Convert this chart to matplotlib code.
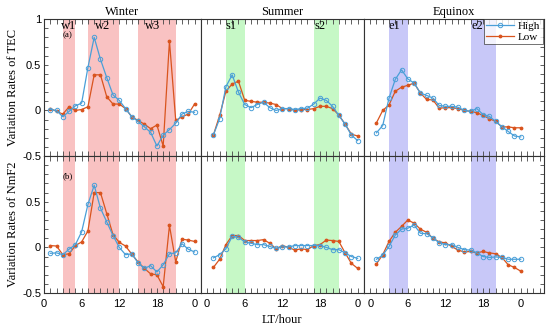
import matplotlib
matplotlib.use("Agg")
import matplotlib.pyplot as plt
from matplotlib.ticker import MultipleLocator, FixedLocator

# local time hours of each sample
hours = list(range(1, 25))

# TEC variation rates (top row)
tec_high_winter = [0.01, 0.0, -0.07, -0.01, 0.05, 0.08, 0.47, 0.80, 0.56, 0.36, 0.17, 0.11,
                   0.02, -0.07, -0.12, -0.18, -0.24, -0.39, -0.27, -0.21, -0.14, -0.04, -0.01, -0.02]
tec_low_winter = [0.02, -0.01, -0.04, 0.04, 0.0, 0.01, 0.04, 0.39, 0.39, 0.15, 0.07, 0.07,
                  0.02, -0.07, -0.11, -0.15, -0.20, -0.16, -0.39, 0.76, -0.11, -0.07, -0.04, 0.07]
tec_high_summer = [-0.27, -0.09, 0.26, 0.39, 0.20, 0.065, 0.03, 0.065, 0.09, 0.03, 0.0, 0.02,
                   0.02, 0.01, 0.02, 0.025, 0.07, 0.135, 0.11, 0.045, -0.055, -0.15, -0.27, -0.33]
tec_low_summer = [-0.27, -0.055, 0.21, 0.29, 0.32, 0.11, 0.10, 0.09, 0.09, 0.08, 0.065, 0.02,
                  0.02, 0.0, 0.01, 0.01, 0.02, 0.045, 0.045, 0.02, -0.05, -0.15, -0.26, -0.28]
tec_high_equinox = [-0.245, -0.165, 0.135, 0.34, 0.445, 0.345, 0.30, 0.19, 0.165, 0.135, 0.055, 0.045,
                    0.045, 0.035, 0.0, -0.01, 0.02, -0.045, -0.065, -0.12, -0.18, -0.23, -0.28, -0.29]
tec_low_equinox = [-0.135, 0.0, 0.06, 0.21, 0.255, 0.275, 0.30, 0.19, 0.12, 0.115, 0.025, 0.03,
                   0.03, 0.02, 0.0, -0.01, -0.025, -0.055, -0.09, -0.12, -0.18, -0.18, -0.19, -0.19]

# NmF2 variation rates (bottom row)
nmf2_high_winter = [-0.065, -0.06, -0.08, -0.02, 0.03, 0.17, 0.47, 0.68, 0.43, 0.28, 0.13, 0.0,
                    -0.08, -0.07, -0.17, -0.23, -0.20, -0.27, -0.19, -0.07, -0.06, 0.04, -0.02, -0.05]
nmf2_low_winter = [0.02, 0.015, -0.08, -0.07, 0.02, 0.06, 0.18, 0.60, 0.60, 0.37, 0.14, 0.055,
                   0.015, -0.075, -0.16, -0.23, -0.29, -0.30, -0.43, 0.24, -0.16, 0.09, 0.08, 0.065]
nmf2_high_summer = [-0.115, -0.08, -0.015, 0.12, 0.11, 0.06, 0.045, 0.03, 0.03, 0.01, -0.01, 0.005,
                    0.005, 0.02, 0.02, 0.02, 0.02, 0.02, 0.0, -0.025, -0.025, -0.06, -0.10, -0.12]
nmf2_low_summer = [-0.22, -0.13, 0.03, 0.13, 0.13, 0.075, 0.075, 0.075, 0.085, 0.045, -0.015, 0.02,
                   0.0, -0.03, -0.015, -0.025, 0.02, 0.03, 0.08, 0.075, 0.065, -0.06, -0.175, -0.23]
nmf2_high_equinox = [-0.13, -0.085, 0.01, 0.135, 0.20, 0.21, 0.245, 0.155, 0.15, 0.105, 0.05, 0.03,
                     0.03, 0.0, -0.025, -0.03, -0.06, -0.10, -0.11, -0.105, -0.11, -0.13, -0.13, -0.13]
nmf2_low_equinox = [-0.18, -0.08, 0.065, 0.165, 0.23, 0.30, 0.265, 0.20, 0.165, 0.10, 0.06, 0.05,
                    0.01, -0.03, -0.05, -0.045, -0.06, -0.045, -0.06, -0.07, -0.11, -0.19, -0.22, -0.26]

seasons = ["Winter", "Summer", "Equinox"]
tec_high = [tec_high_winter, tec_high_summer, tec_high_equinox]
tec_low = [tec_low_winter, tec_low_summer, tec_low_equinox]
nmf2_high = [nmf2_high_winter, nmf2_high_summer, nmf2_high_equinox]
nmf2_low = [nmf2_low_winter, nmf2_low_summer, nmf2_low_equinox]

# shaded periods: (start, end, label)
bands = [
    [(3, 5, "w1"), (7, 12, "w2"), (15, 21, "w3")],
    [(3, 6, "s1"), (17, 21, "s2")],
    [(3, 6, "e1"), (16, 20, "e2")],
]
band_colors = ["#F9C2C2", "#C6F8C6", "#C8C8F8"]
label_x = [[4.0, 9.3, 17.3], [3.8, 18.0], [3.8, 17.1]]
xlims = [(0, 25), (-1, 25), (-1, 27.7)]

xtick_pos = [0, 6, 12, 18, 24]
xtick_labels = ["0", "6", "12", "18", "0"]

blue = "#4A9FD8"
red = "#D9541E"
serif = "Liberation Serif"
sans = "Liberation Sans"

fig, axes = plt.subplots(2, 3, figsize=(5.5, 3.3), dpi=100,
                         gridspec_kw=dict(width_ratios=[25, 26, 28.7], wspace=0, hspace=0))
fig.subplots_adjust(left=0.08, right=0.989, top=0.942, bottom=0.112)

for row in range(2):
    for col in range(3):
        ax = axes[row, col]
        if row == 0:
            hi, lo = tec_high[col], tec_low[col]
        else:
            hi, lo = nmf2_high[col], nmf2_low[col]
        for (s, e, lab) in bands[col]:
            ax.axvspan(s, e, color=band_colors[col], lw=0, zorder=0)
        ax.plot(hours, hi, color=blue, lw=0.9, marker="o", ms=3.2, mfc="none",
                mec=blue, mew=0.7, label="High", zorder=3)
        ax.plot(hours, lo, color=red, lw=0.9, marker=".", ms=3.5, label="Low", zorder=2)
        ax.set_xlim(*xlims[col])
        ax.set_ylim(-0.5, 1)
        ax.xaxis.set_major_locator(FixedLocator(xtick_pos))
        ax.xaxis.set_minor_locator(MultipleLocator(1))
        ax.tick_params(axis="x", which="both", direction="in", top=True, bottom=True,
                       length=3.5, width=0.6, color="#444444", pad=4)
        ax.tick_params(axis="y", which="both", direction="in", left=(col == 0),
                       right=(col == 2), length=3, width=0.6, color="#444444")
        ax.yaxis.set_major_locator(MultipleLocator(0.5))
        ax.yaxis.set_minor_locator(MultipleLocator(0.1))
        for sp in ax.spines.values():
            sp.set_linewidth(0.8)
            sp.set_color("#333333")
        if row == 1:
            ax.set_xticklabels(xtick_labels, fontsize=8, fontfamily=sans)
        else:
            ax.set_xticklabels([])
        if col == 0:
            if row == 0:
                ax.set_yticks([-0.5, 0, 0.5, 1])
                ax.set_yticklabels(["-0.5", "0", "0.5", "1"], fontsize=8, fontfamily=sans)
            else:
                ax.set_yticks([-0.5, 0, 0.5, 1])
                ax.set_yticklabels(["-0.5", "0", "0.5", ""], fontsize=8, fontfamily=sans)
            ax.tick_params(axis="y", pad=2)
        else:
            ax.set_yticklabels([])
        if row == 0:
            ax.set_title(seasons[col], fontsize=9, fontfamily=serif, pad=3)
            for (s, e, lab), lx in zip(bands[col], label_x[col]):
                ax.text(lx, 0.93, lab, fontsize=9, fontfamily=serif, ha="center", va="center")

axes[0, 0].text(3.8, 0.82, "(a)", fontsize=6.5, fontfamily=serif, ha="center", va="center")
axes[1, 0].text(3.8, 0.78, "(b)", fontsize=6.5, fontfamily=serif, ha="center", va="center")

axes[0, 0].set_ylabel("Variation Rates of TEC", fontsize=9, fontfamily=serif, labelpad=2)
axes[1, 0].set_ylabel("Variation Rates of NmF2", fontsize=9, fontfamily=serif, labelpad=2)
axes[1, 1].set_xlabel("LT/hour", fontsize=9, fontfamily=serif, labelpad=4)

leg = axes[0, 2].legend(loc="upper right", bbox_to_anchor=(1.005, 1.02),
                        prop={"family": serif, "size": 8}, frameon=True, fancybox=False,
                        edgecolor="#333333", handlelength=2.5, borderpad=0.2,
                        labelspacing=0.1, handletextpad=0.4, borderaxespad=0.2)
leg.get_frame().set_linewidth(0.6)
leg.set_zorder(5)

fig.savefig("out.png", dpi=100)
